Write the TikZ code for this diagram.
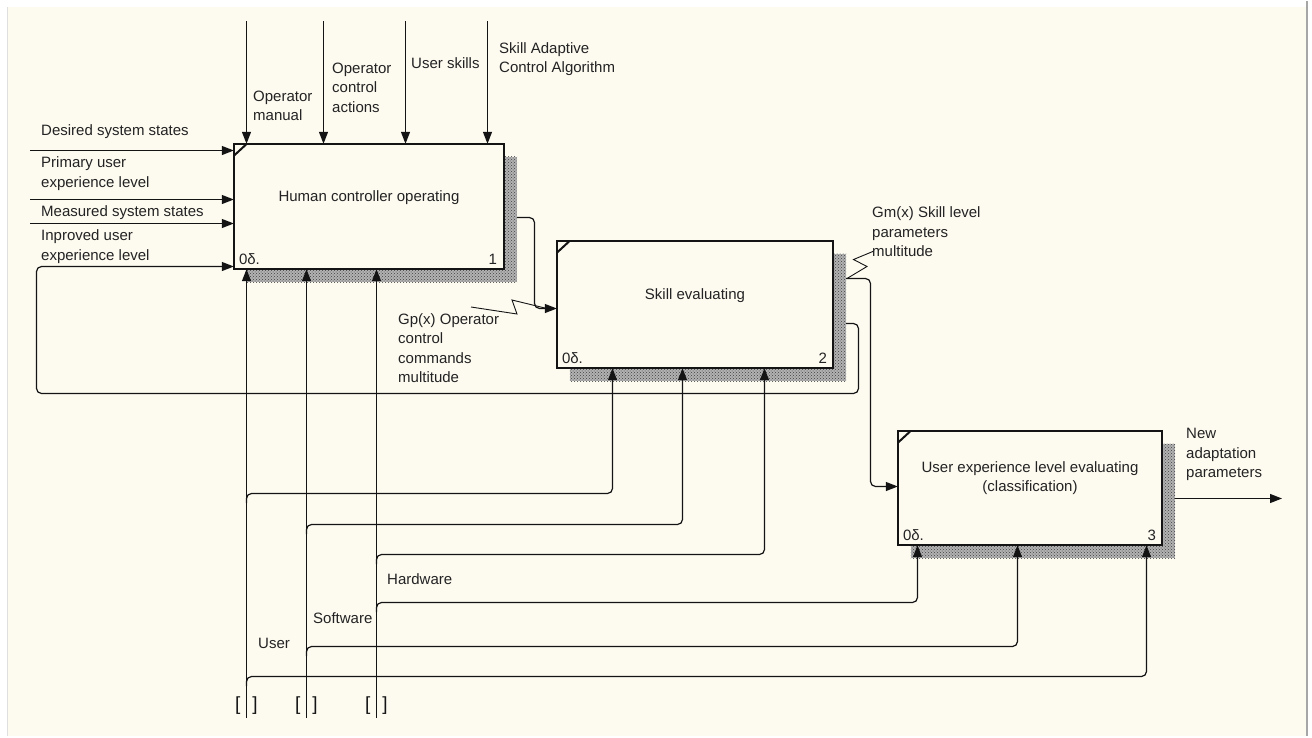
\documentclass[tikz,border=0pt]{standalone}
\usepackage{fontspec}
\setmainfont{Liberation Sans}
\usetikzlibrary{arrows.meta,patterns}
\definecolor{cream}{RGB}{253,250,240}
\definecolor{ink}{RGB}{20,20,20}
\definecolor{txt}{RGB}{35,35,35}
\tikzset{
  procbox/.style={rectangle, draw=ink, line width=2.6pt, fill=cream, inner sep=0pt},
  conn/.style={draw=ink, line width=1.2pt},
  arr/.style={conn, -{Triangle[length=12pt,width=9pt]}},
  roundbend/.style={rounded corners=5pt},
  lbl/.style={font=\fontsize{15}{19.5}\selectfont, text=txt, inner sep=0pt, align=left, anchor=west},
  boxtxt/.style={font=\fontsize{15}{19.5}\selectfont, text=txt, inner sep=0pt, align=center},
  numtxt/.style={font=\fontsize{15}{19.5}\selectfont, text=txt, inner sep=0pt},
  brk/.style={font=\fontsize{19}{19}\selectfont, text=ink, inner sep=0pt},
  shadowbox/.style={fill=gray!60},
  shadowdots/.style={pattern=crosshatch dots, pattern color=gray!50!black},
  zig/.style={draw=ink, line width=0.9pt},
  tick/.style={draw=ink, line width=2pt},
}
\begin{document}
\begin{tikzpicture}[x=1pt,y=-1pt]
% page background
\fill[white] (0,0) rectangle (1312,735);
\fill[cream] (7,6) rectangle (1306,735);
\draw[gray!25, line width=1pt] (7.5,6) -- (7.5,735);
\draw[gray!70, line width=2pt] (1306.5,0) -- (1306.5,735);
\useasboundingbox (0,0) rectangle (1312,735);

% boxes (placement only; drawn below)
\path (369,205.5) node[minimum width=270pt, minimum height=125pt, inner sep=0pt] (b1) {};
\path (695,303.5) node[minimum width=276pt, minimum height=127pt, inner sep=0pt] (b2) {};
\path (1030,487) node[minimum width=264pt, minimum height=114pt, inner sep=0pt] (b3) {};

% output connectors (under shadows)
\coordinate (k1) at (534.5,216.5);
\coordinate (k2) at (534.5,307.5);
\draw[arr, roundbend] (k1 -| b1.east) -- (k1) -- (k2) -- (k2 -| b2.west);
\coordinate (m1) at (870.5,277.5);
\coordinate (m2) at (870.5,485.5);
\draw[arr, roundbend] (m1 -| b2.east) -- (m1) -- (m2) -- (m2 -| b3.west);
\coordinate (f1) at (858.5,322.5);
\coordinate (f2) at (858.5,392.5);
\coordinate (f3) at (36.5,392.5);
\coordinate (f4) at (36.5,265.5);
\draw[arr, roundbend] (f1 -| b2.east) -- (f1) -- (f2) -- (f3) -- (f4) -- (f4 -| b1.west);
\coordinate (o3) at (1282,497.5);
\draw[arr] (o3 -| b3.east) -- (o3);

% shadows
\foreach \b in {b1,b2,b3}{
  \fill[shadowbox] ([shift={(13pt,-13pt)}]\b.north west) rectangle ([shift={(13pt,-13pt)}]\b.south east);
  \fill[shadowdots] ([shift={(13pt,-13pt)}]\b.north west) rectangle ([shift={(13pt,-13pt)}]\b.south east);
}

% boxes
\node[procbox, minimum width=270pt, minimum height=125pt] at (b1) {};
\node[procbox, minimum width=276pt, minimum height=127pt] at (b2) {};
\node[procbox, minimum width=264pt, minimum height=114pt] at (b3) {};
\foreach \b in {b1,b2,b3}{
  \draw[tick] ([yshift=-12pt]\b.north west) -- ([xshift=13pt]\b.north west);
  \node[numtxt, anchor=base west] at ([shift={(5pt,5pt)}]\b.south west) {0δ.};
}
\node[numtxt, anchor=base east] at ([shift={(-7pt,5pt)}]b1.south east) {1};
\node[numtxt, anchor=base east] at ([shift={(-6pt,5pt)}]b2.south east) {2};
\node[numtxt, anchor=base east] at ([shift={(-6pt,5pt)}]b3.south east) {3};

\node[boxtxt] at ([yshift=9pt]b1.center) {Human controller operating};
\node[boxtxt] at ([yshift=9pt]b2.center) {Skill evaluating};
\node[boxtxt] at ([yshift=10pt]b3.center) {User experience level evaluating\\(classification)};

% inputs from the left
\coordinate (l1) at (30,149.5);
\coordinate (l2) at (30,198.5);
\coordinate (l3) at (30,222.5);
\foreach \c in {l1,l2,l3}{ \draw[arr] (\c) -- (\c -| b1.west); }

% controls from the top
\coordinate (t1) at (246.5,20);
\coordinate (t2) at (323.5,20);
\coordinate (t3) at (405.5,20);
\coordinate (t4) at (487.5,20);
\foreach \c in {t1,t2,t3,t4}{ \draw[arr] (\c) -- (\c |- b1.north); }

% mechanisms from the bottom
\coordinate (u0) at (246.5,717);
\coordinate (s0) at (306.5,717);
\coordinate (h0) at (376.5,717);
\foreach \c in {u0,s0,h0}{
  \draw[arr] (\c) -- (\c |- b1.south);
  \node[brk] at ([yshift=12pt]\c) {[\hspace{12pt}]};
}
% branches
\coordinate (ub1) at (612.5,492.5);   \coordinate (ub1s) at (246.5,502);
\coordinate (sb1) at (682.5,523.5);   \coordinate (sb1s) at (306.5,533);
\coordinate (hb1) at (764.5,553.5);   \coordinate (hb1s) at (376.5,563);
\coordinate (hb2) at (917.5,601.5);   \coordinate (hb2s) at (376.5,611);
\coordinate (sb2) at (1017.5,645.5);  \coordinate (sb2s) at (306.5,655);
\coordinate (ub2) at (1146.5,675.5);  \coordinate (ub2s) at (246.5,685);
\draw[arr, roundbend] (ub1s) -- (ub1s |- ub1) -- (ub1) -- (ub1 |- b2.south);
\draw[arr, roundbend] (sb1s) -- (sb1s |- sb1) -- (sb1) -- (sb1 |- b2.south);
\draw[arr, roundbend] (hb1s) -- (hb1s |- hb1) -- (hb1) -- (hb1 |- b2.south);
\draw[arr, roundbend] (hb2s) -- (hb2s |- hb2) -- (hb2) -- (hb2 |- b3.south);
\draw[arr, roundbend] (sb2s) -- (sb2s |- sb2) -- (sb2) -- (sb2 |- b3.south);
\draw[arr, roundbend] (ub2s) -- (ub2s |- ub2) -- (ub2) -- (ub2 |- b3.south);

% squiggle label leaders
\coordinate (gp0) at (471,306);
\coordinate (gp3) at (547,307.5);
\draw[zig] (gp0) -- (517,313) -- (512,299) -- (gp3);
\coordinate (gm0) at (874,250);
\coordinate (gm3) at (847,277.5);
\draw[zig] (gm0) -- (853.5,258.5) -- (867,265.5) -- (gm3);

% labels
\node[lbl] (lab1) at (41,131) {Desired system states};
\node[lbl] (lab2) at (41,172.5) {Primary user\\experience level};
\node[lbl] (lab3) at (41,212) {Measured system states};
\node[lbl] (lab4) at (41,245.5) {Inproved user\\experience level};
\node[lbl] (lab5) at (253,105) {Operator\\manual};
\node[lbl] (lab6) at (332,86.5) {Operator\\control\\actions};
\node[lbl] (lab7) at (411,62.5) {User skills};
\node[lbl] (lab8) at (499,58) {Skill Adaptive\\Control Algorithm};
\node[lbl] (lab9) at (398,347) {Gp(x) Operator\\control\\commands\\multitude};
\node[lbl] (lab10) at (872,231) {Gm(x) Skill level\\parameters\\multitude};
\node[lbl] (lab11) at (1186,453.5) {New\\adaptation\\parameters};
\node[lbl] (lab12) at (387,578.5) {Hardware};
\node[lbl] (lab13) at (313,617.5) {Software};
\node[lbl] (lab14) at (258,642.5) {User};
\end{tikzpicture}
\end{document}
